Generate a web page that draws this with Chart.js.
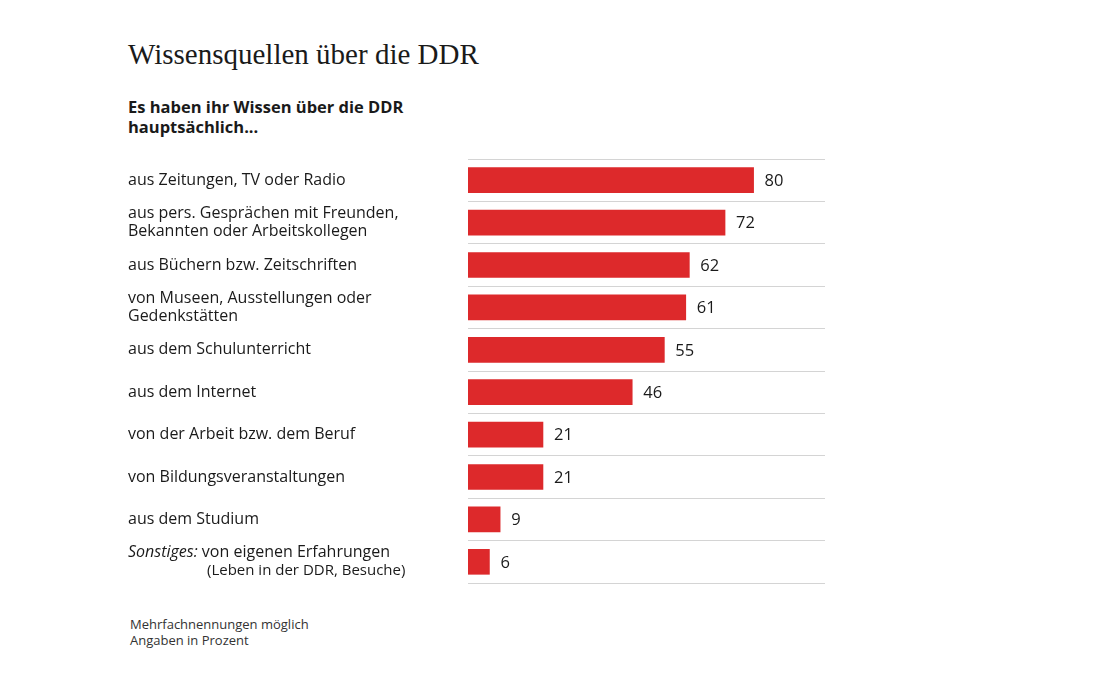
<!DOCTYPE html>
<html><head><meta charset="utf-8">
<script src="https://cdn.jsdelivr.net/npm/chart.js@4"></script>
<style>
body{margin:0;width:1098px;height:688px;background:#fff;font-family:"Open Sans",sans-serif;color:#1a1a1a;position:relative;overflow:hidden}
#title{position:absolute;left:128px;top:38px;font-family:"Liberation Serif",serif;font-size:29px}
#sub{position:absolute;left:128px;top:97px;font-weight:bold;font-size:16.5px;line-height:20px}
#foot{position:absolute;left:130px;top:616px;font-size:13px;line-height:16px;color:#333}
canvas{position:absolute;left:0;top:0}
</style></head><body>
<div id="title">Wissensquellen über die DDR</div>
<div id="sub">Es haben ihr Wissen über die DDR<br>hauptsächlich...</div>
<div id="foot">Mehrfachnennungen möglich<br>Angaben in Prozent</div>
<canvas id="c" width="1098" height="688"></canvas>
<script>
const labels = [
  ['aus Zeitungen, TV oder Radio'],
  ['aus pers. Gesprächen mit Freunden,', 'Bekannten oder Arbeitskollegen'],
  ['aus Büchern bzw. Zeitschriften'],
  ['von Museen, Ausstellungen oder', 'Gedenkstätten'],
  ['aus dem Schulunterricht'],
  ['aus dem Internet'],
  ['von der Arbeit bzw. dem Beruf'],
  ['von Bildungsveranstaltungen'],
  ['aus dem Studium'],
  ['Sonstiges: von eigenen Erfahrungen', '(Leben in der DDR, Besuche)']
];
const values = [80, 72, 62, 61, 55, 46, 21, 21, 9, 6];

const textPlugin = {
  id: 'texts',
  afterDatasetsDraw(chart) {
    const ctx = chart.ctx;
    const meta = chart.getDatasetMeta(0);
    const y = chart.scales.y;
    ctx.save();
    ctx.textBaseline = 'middle';
    ctx.fillStyle = '#1a1a1a';
    labels.forEach((lines, i) => {
      const cy = y.getPixelForValue(i);
      const lh = 18;
      const y0 = cy - (lines.length - 1) * lh / 2;
      lines.forEach((t, j) => {
        ctx.font = '16px "Open Sans"';
        ctx.textAlign = 'left';
        if (i === labels.length - 1) {
          if (j === 0) {
            ctx.font = 'italic 16px "Open Sans"';
            ctx.fillText('Sonstiges:', 128, y0);
            const w = ctx.measureText('Sonstiges: ').width;
            ctx.font = '16px "Open Sans"';
            ctx.fillText(t.replace('Sonstiges: ', ''), 128 + w, y0 + j * lh);
          } else {
            ctx.font = '15px "Open Sans"';
            ctx.fillText(t, 207, y0 + j * lh);
          }
        } else {
          ctx.fillText(t, 128, y0 + j * lh);
        }
      });
      const bar = meta.data[i];
      ctx.font = '16.5px "Open Sans"';
      ctx.fillText(String(values[i]), bar.x + 11, cy + 1);
    });
    ctx.restore();
  }
};

new Chart(document.getElementById('c'), {
  type: 'bar',
  data: { labels: labels.map(l => l.join(' ')), datasets: [{ data: values, backgroundColor: '#dd292b', barThickness: 25 }] },
  options: {
    indexAxis: 'y', responsive: false, animation: false,
    layout: { padding: { left: 468, right: 273, top: 159, bottom: 105 } },
    plugins: { legend: { display: false }, tooltip: { enabled: false } },
    scales: {
      x: { display: false, min: 0, max: 100 },
      y: { offset: true, ticks: { display: false }, border: { display: false },
           grid: { offset: true, color: '#d4d4d4', lineWidth: 1, drawTicks: false } }
    }
  },
  plugins: [textPlugin]
});
</script>
</body></html>
